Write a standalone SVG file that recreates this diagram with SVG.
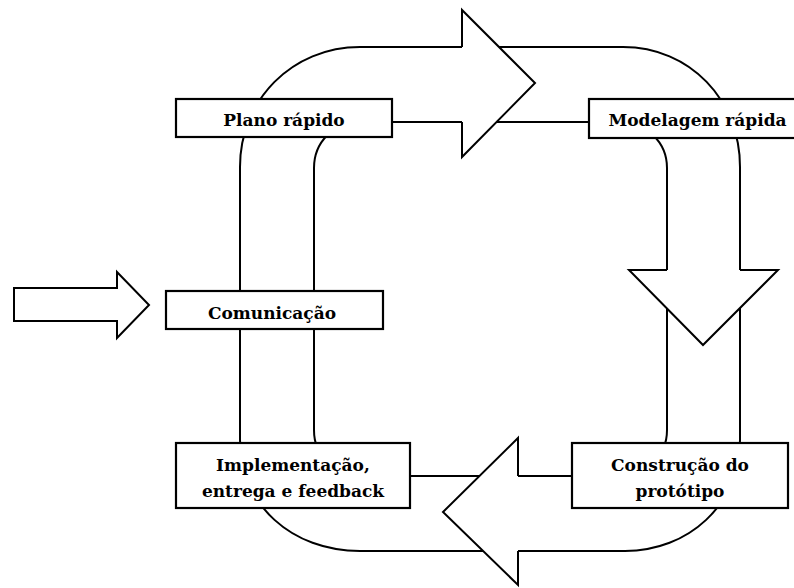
<svg xmlns="http://www.w3.org/2000/svg" width="794" height="588" viewBox="0 0 794 588">
  <style>
    .line { fill: none; stroke: #000; stroke-width: 2; }
    .head { fill: #fff; stroke: #000; stroke-width: 2; stroke-linejoin: miter; }
    .box { fill: #fff; stroke: #000; stroke-width: 2.2; }
    .label { font-family: "DejaVu Serif", "Liberation Serif", serif; font-weight: bold; font-size: 17px; text-anchor: middle; fill: #000; }
  </style>
  <rect width="794" height="588" fill="#fff"/>

  <!-- circular band and arrows of the cycle -->
  <g id="connectors">
    <!-- outer edge of the band -->
    <path class="line" d="M240,440 L240,167 C240,100 292,47 360,47 L623,47 C690,47 740,100 740,167 L740,440 C740,505 688,551 625,551 L360,551 C292,551 240,505 240,440 Z"/>
    <!-- inner edge of the band -->
    <path class="line" d="M314,430 L314,168 C314,142 334,122 360,122 L620,122 C646,122 667,142 667,168 L667,430 C667,456 646,476 620,476 L360,476 C334,476 314,456 314,430 Z"/>
    <!-- arrowheads on the band -->
    <path class="head" d="M462,47 L462,10 L535,83 L462,157 L462,122"/>
    <path class="head" d="M740,270 L778,270 L703,345 L629,270 L667,270"/>
    <path class="head" d="M518,476 L518,438 L443,512 L518,585 L518,551"/>
    <!-- entry arrow -->
    <path class="head" d="M14,288 L117,288 L117,272 L149,305 L117,338 L117,321 L14,321 Z"/>
  </g>

  <g id="plano">
    <rect class="box" x="176" y="99" width="216" height="38"/>
    <text class="label" x="284" y="125.5">Plano rápido</text>
  </g>
  <g id="modelagem">
    <rect class="box" x="589" y="99" width="217" height="39"/>
    <text class="label" x="697.5" y="126">Modelagem rápida</text>
  </g>
  <g id="comunicacao">
    <rect class="box" x="166" y="291" width="217" height="38"/>
    <text class="label" x="272" y="319">Comunicação</text>
  </g>
  <g id="implementacao">
    <rect class="box" x="176" y="443" width="234" height="65"/>
    <text class="label" x="293" y="471">Implementação,</text>
    <text class="label" x="293" y="497">entrega e feedback</text>
  </g>
  <g id="construcao">
    <rect class="box" x="572" y="443" width="216" height="65"/>
    <text class="label" x="680" y="471">Construção do</text>
    <text class="label" x="680" y="497">protótipo</text>
  </g>
</svg>
